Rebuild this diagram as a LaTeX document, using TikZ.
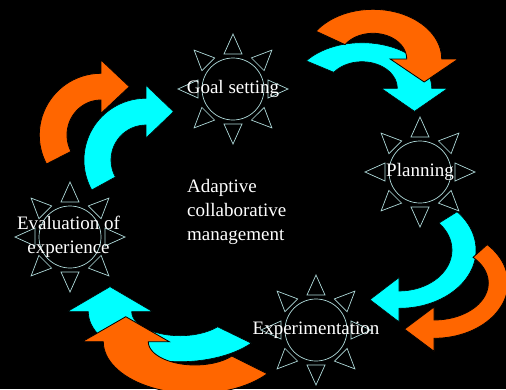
\documentclass[tikz,border=0pt]{standalone}
\usepackage{fontspec}
\setmainfont{Liberation Serif}
\usepackage{tikz}
\usetikzlibrary{calc}

\definecolor{skycyan}{RGB}{0,255,255}
\definecolor{emberorange}{RGB}{255,102,0}
\definecolor{sunline}{RGB}{175,218,218}

\tikzset{
  head over/.store in=\headover, head len/.store in=\headlen,
  head over=15, head len=25,
  sky band/.style={fill=skycyan,draw=black,line width=0.6pt},
  ember band/.style={fill=emberorange,draw=black,line width=0.8pt},
  sun ray/.style={draw=sunline,line width=0.7pt},
  sun label/.style={text=white,font=\fontsize{19}{24}\selectfont,inner sep=0pt,align=center},
  core label/.style={text=white,font=\fontsize{19}{24}\selectfont,inner sep=0pt,align=left},
}

% curved band with a head: style, cx, cy, outer a, outer b, inner a, inner b, tail angle, head angle
\newcommand{\bandarrow}[9]{%
  \begin{scope}[#1]
    \pgfmathsetmacro\pox{#2+#4*cos(#9)}
    \pgfmathsetmacro\poy{#3+#5*sin(#9)}
    \pgfmathsetmacro\pix{#2+#6*cos(#9)}
    \pgfmathsetmacro\piy{#3+#7*sin(#9)}
    \pgfmathsetmacro\wl{veclen(\pox-\pix,\poy-\piy)}
    \pgfmathsetmacro\ux{(\pox-\pix)/\wl}
    \pgfmathsetmacro\uy{(\poy-\piy)/\wl}
    \pgfmathsetmacro\turn{sign((#9)-(#8))*sign(\ux*#5*cos(#9)+\uy*#4*sin(#9))}
    \pgfmathsetmacro\tipx{(\pox+\pix)/2-\turn*\headlen*\uy}
    \pgfmathsetmacro\tipy{(\poy+\piy)/2+\turn*\headlen*\ux}
    \filldraw plot[domain=#8:#9,samples=40] ({#2+#4*cos(\x)},{#3+#5*sin(\x)})
      -- ({\pox+\headover*\ux},{\poy+\headover*\uy}) -- (\tipx,\tipy)
      -- ({\pix-\headover*\ux},{\piy-\headover*\uy})
      -- plot[domain=#9:#8,samples=40] ({#2+#6*cos(\x)},{#3+#7*sin(\x)}) -- cycle;
  \end{scope}}

\begin{document}
\begin{tikzpicture}[x=1pt,y=-1pt]
    \useasboundingbox (0,0) rectangle (506,389);
    \fill[black] (0,0) rectangle (506,389);

    % cyan bands
    \bandarrow{sky band, head over=16, head len=23}{362}{88.3}{69.7}{45.6}{35.3}{26.6}{217}{360}
    \bandarrow{sky band, head over=13.5, head len=29}{399}{250}{77}{58.3}{53}{41}{-41}{90}
    \bandarrow{sky band, head over=21, head len=25}{180}{311.7}{91.7}{50}{48.3}{24}{39}{180}
    \bandarrow{sky band, head over=13, head len=27.5}{146}{160}{62}{61.7}{35}{35}{151}{270}

    % orange bands
    \bandarrow{ember band, head over=16.5, head len=23}{373}{59}{68.7}{49.7}{33.7}{25.7}{214}{360}
    \bandarrow{ember band, head over=13, head len=29.5}{434}{283}{74}{55.3}{54.3}{37}{-44}{90}
    \bandarrow{ember band, head over=21, head len=25}{195}{341.7}{91.7}{52}{46.7}{23.3}{38}{180}
    \bandarrow{ember band, head over=13.3, head len=28.3}{101}{135}{61.7}{61.7}{34}{35}{152}{270}

    \coordinate (goal) at (233,89);
    \coordinate (plan) at (420,172);
    \coordinate (exper) at (316,330);
    \coordinate (eval) at (70,237);

    \foreach \s in {goal,plan,exper,eval}{
        \draw[sun ray] (\s) circle (31);
        \foreach \a in {0,45,...,315}
            \draw[sun ray] ($(\s)+(\a:35)+(\a+90:9)$) -- ($(\s)+(\a:55)$)
                -- ($(\s)+(\a:35)+(\a-90:9)$) -- cycle;
    }

    \node[sun label] (goal text) at (goal) {Goal setting};
    \node[sun label] (plan text) at (plan) {Planning};
    \node[sun label] (exper text) at (exper) {Experimentation};
    \node[sun label] (eval text) at ($(eval)+(-1.5,0)$) {Evaluation of\\experience};
    \node[core label,anchor=west] (core) at (187,212) {Adaptive\\collaborative\\management};
\end{tikzpicture}
\end{document}
